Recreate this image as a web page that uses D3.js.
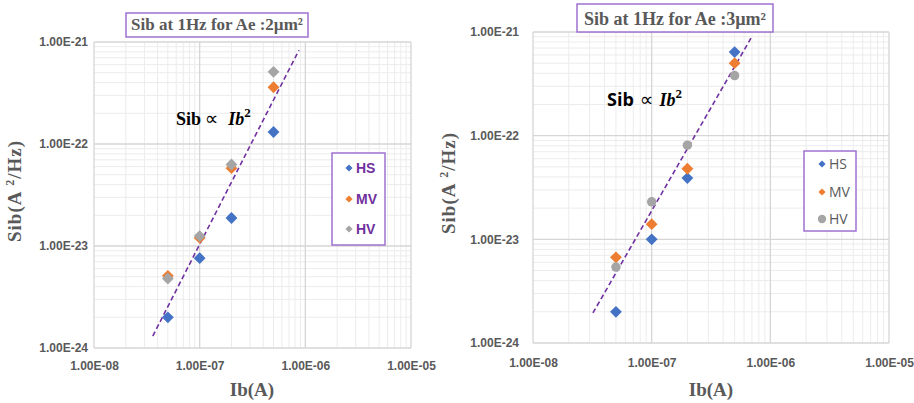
<!DOCTYPE html>
<html>
<head>
<meta charset="utf-8">
<script src="https://cdn.jsdelivr.net/npm/d3@7"></script>
<style>
  html, body { margin: 0; padding: 0; background: #fff; }
  svg { display: block; }
</style>
</head>
<body>
<svg id="chart" width="914" height="403"></svg>
<script>
// Bias current points (A)
const ibValues = [5e-8, 1e-7, 2e-7, 5e-7];
const seriesNames = ["HS", "MV", "HV"];

// Sib at 1 Hz, Ae = 2 µm² (A²/Hz)
const sib2HS = [2.0e-24, 7.6e-24, 1.88e-23, 1.31e-22];
const sib2MV = [5.1e-24, 1.2e-23, 5.8e-23, 3.6e-22];
const sib2HV = [4.8e-24, 1.25e-23, 6.3e-23, 5.1e-22];

// Sib at 1 Hz, Ae = 3 µm² (A²/Hz)
const sib3HS = [2.0e-24, 1.0e-23, 3.9e-23, 6.4e-22];
const sib3MV = [6.7e-24, 1.4e-23, 4.8e-23, 5.0e-22];
const sib3HV = [5.4e-24, 2.3e-23, 8.1e-23, 3.8e-22];

// Ib² guide lines (end points)
const trend2Ib = [3.6e-8, 8.7e-7];
const trend2Sib = [1.31e-24, 8.3e-22];
const trend3Ib = [3.2e-8, 6.9e-7];
const trend3Sib = [1.95e-24, 8.8e-22];

// Axis ticks
const xTickValues = [1e-8, 1e-7, 1e-6, 1e-5];
const xTickLabels = ["1.00E-08", "1.00E-07", "1.00E-06", "1.00E-05"];
const yTickValues = [1e-24, 1e-23, 1e-22, 1e-21];
const yTickLabels = ["1.00E-24", "1.00E-23", "1.00E-22", "1.00E-21"];

const titles = ["Sib at 1Hz for Ae :2\u00b5m\u00b2", "Sib at 1Hz for Ae :3\u00b5m\u00b2"];

const colors = { HS: "#4472c4", MV: "#ed7d31", HV: "#a5a5a5" };
const purple = "#7030a0";
const boxPurple = "#9e72cf";
const textGray = "#595959";

const svg = d3.select("#chart");

function minorTicks(lo, hi) {
  const out = [];
  for (let e = Math.round(Math.log10(lo)); e < Math.round(Math.log10(hi)); e++) {
    for (let m = 2; m <= 9; m++) out.push(m * Math.pow(10, e));
  }
  return out;
}

function drawPanel(p) {
  const g = svg.append("g");
  const x = d3.scaleLog().domain([1e-8, 1e-5]).range([p.left, p.right]);
  const y = d3.scaleLog().domain([1e-24, 1e-21]).range([p.bottom, p.top]);

  // minor grid
  g.append("g").selectAll("line").data(minorTicks(1e-8, 1e-5)).join("line")
    .attr("x1", d => x(d)).attr("x2", d => x(d))
    .attr("y1", p.top).attr("y2", p.bottom)
    .attr("stroke", "#ececec").attr("stroke-width", 1);
  g.append("g").selectAll("line").data(minorTicks(1e-24, 1e-21)).join("line")
    .attr("y1", d => y(d)).attr("y2", d => y(d))
    .attr("x1", p.left).attr("x2", p.right)
    .attr("stroke", "#ececec").attr("stroke-width", 1);

  // major grid
  g.append("g").selectAll("line").data(xTickValues).join("line")
    .attr("x1", d => x(d)).attr("x2", d => x(d))
    .attr("y1", p.top).attr("y2", p.bottom)
    .attr("stroke", "#d6d6d6").attr("stroke-width", 1.3);
  g.append("g").selectAll("line").data(yTickValues).join("line")
    .attr("y1", d => y(d)).attr("y2", d => y(d))
    .attr("x1", p.left).attr("x2", p.right)
    .attr("stroke", "#d6d6d6").attr("stroke-width", 1.3);

  // axes (labels only)
  const xAxis = d3.axisBottom(x).tickValues(xTickValues)
    .tickFormat((d, i) => xTickLabels[i]).tickSize(0).tickPadding(p.xPad);
  const yAxis = d3.axisLeft(y).tickValues(yTickValues)
    .tickFormat((d, i) => yTickLabels[i]).tickSize(0).tickPadding(p.yPad);
  const gx = g.append("g").attr("transform", `translate(0,${p.bottom})`).call(xAxis);
  const gy = g.append("g").attr("transform", `translate(${p.left},0)`).call(yAxis);
  [gx, gy].forEach(a => {
    a.select(".domain").remove();
    a.selectAll("text").attr("fill", textGray)
      .style("font-family", "'Liberation Sans', Arial, sans-serif")
      .style("font-weight", "bold").style("font-size", p.tickSize + "px");
  });

  // axis titles
  g.append("text").attr("x", p.xTitleX).attr("y", p.xTitleY)
    .attr("text-anchor", "middle").attr("fill", textGray)
    .style("font-family", "'Liberation Serif', 'DejaVu Serif', serif")
    .style("font-weight", "bold").style("font-size", "19px")
    .text("Ib(A)");
  const yt = g.append("text")
    .attr("transform", `translate(${p.yTitleX},${p.yTitleY}) rotate(-90)`)
    .attr("text-anchor", "middle").attr("fill", textGray)
    .style("font-family", "'Liberation Serif', 'DejaVu Serif', serif")
    .style("font-weight", "bold").style("font-size", "19px")
    .style("letter-spacing", "1px");
  yt.append("tspan").text("Sib(A ");
  yt.append("tspan").attr("dy", -7).style("font-size", "12px").text("2");
  yt.append("tspan").attr("dy", 7).text("/Hz)");

  // trend line Sib ∝ Ib²
  const line = d3.line().x(d => x(d[0])).y(d => y(d[1]));
  g.append("path").datum(d3.zip(p.trendIb, p.trendSib))
    .attr("d", line).attr("fill", "none")
    .attr("stroke", purple).attr("stroke-width", 1.6)
    .attr("stroke-dasharray", "5,3");

  // points
  const diamond = d3.symbol().type(d3.symbolSquare).size(70);
  seriesNames.forEach((name, si) => {
    const vals = p.series[si];
    const pts = g.append("g").selectAll("path").data(ibValues.map((v, i) => [v, vals[i]])).join("path");
    if (p.circleHV && name === "HV") {
      pts.attr("d", d3.symbol().type(d3.symbolCircle).size(70)())
        .attr("transform", d => `translate(${x(d[0])},${y(d[1])})`);
    } else {
      pts.attr("d", diamond())
        .attr("transform", d => `translate(${x(d[0])},${y(d[1])}) rotate(45)`);
    }
    pts.attr("fill", colors[name]);
  });

  // title box
  g.append("rect").attr("x", p.titleBox[0]).attr("y", p.titleBox[1])
    .attr("width", p.titleBox[2]).attr("height", p.titleBox[3])
    .attr("fill", "#fff").attr("stroke", boxPurple).attr("stroke-width", 1.5);
  g.append("text").attr("x", p.titleBox[0] + p.titleBox[2] / 2).attr("y", p.titleBox[1] + p.titleBox[3] - 7)
    .attr("text-anchor", "middle").attr("fill", textGray)
    .style("font-family", "'Liberation Serif', 'DejaVu Serif', serif")
    .style("font-weight", "bold").style("font-size", p.titleSize + "px")
    .text(p.title);

  // legend
  const lb = p.legendBox;
  g.append("rect").attr("x", lb[0]).attr("y", lb[1]).attr("width", lb[2]).attr("height", lb[3])
    .attr("fill", "#fff").attr("stroke", boxPurple).attr("stroke-width", 1.5);
  seriesNames.forEach((name, i) => {
    const cy = p.legendRows[i];
    if (p.circleHV && name === "HV") {
      g.append("circle").attr("cx", p.legendMarkX).attr("cy", cy).attr("r", 4.2).attr("fill", colors[name]);
    } else {
      g.append("path").attr("d", d3.symbol().type(d3.symbolSquare).size(26)())
        .attr("transform", `translate(${p.legendMarkX},${cy}) rotate(45)`).attr("fill", colors[name]);
    }
    g.append("text").attr("x", p.legendTextX).attr("y", cy).attr("dy", "0.36em")
      .attr("fill", p.legendColor)
      .style("font-family", p.legendFont)
      .style("font-weight", p.legendWeight).style("font-size", p.legendSize + "px")
      .text(name);
  });

  // annotation
  const an = g.append("text").attr("x", p.annot[0]).attr("y", p.annot[1]).attr("fill", "#000")
    .style("font-size", "18px").style("font-weight", "bold");
  an.append("tspan").style("font-family", p.annotSibFont).text("Sib");
  an.append("tspan").style("font-family", "'DejaVu Sans', sans-serif").style("font-weight", "normal")
    .style("font-size", "19px").text(p.annotGap);
  an.append("tspan").style("font-family", "'Liberation Serif', serif").style("font-style", "italic").text("Ib");
  an.append("tspan").attr("dy", -8).style("font-family", "'Liberation Serif', serif")
    .style("font-size", "13px").text("2");
}

drawPanel({
  left: 94, right: 411, top: 42, bottom: 348,
  xPad: 13, yPad: 6, tickSize: 12,
  xTitleX: 252, xTitleY: 396, yTitleX: 21, yTitleY: 191,
  series: [sib2HS, sib2MV, sib2HV], circleHV: false,
  trendIb: trend2Ib, trendSib: trend2Sib,
  title: titles[0], titleSize: 17, titleBox: [126, 13, 182, 24],
  legendBox: [332, 153, 53, 92], legendRows: [168, 199, 229],
  legendMarkX: 349, legendTextX: 356, legendColor: purple,
  legendFont: "'Liberation Sans Narrow', 'Liberation Sans', Arial, sans-serif",
  legendWeight: "bold", legendSize: 14,
  annot: [176, 125], annotSibFont: "'Liberation Serif', serif", annotGap: "\u2009\u221d\u2009 "
});

drawPanel({
  left: 533, right: 889, top: 32, bottom: 343,
  xPad: 15, yPad: 14, tickSize: 12,
  xTitleX: 711, xTitleY: 396, yTitleX: 455, yTitleY: 183,
  series: [sib3HS, sib3MV, sib3HV], circleHV: true,
  trendIb: trend3Ib, trendSib: trend3Sib,
  title: titles[1], titleSize: 18, titleBox: [577, 4, 196, 28],
  legendBox: [804, 151, 52, 80], legendRows: [164, 192, 219],
  legendMarkX: 822, legendTextX: 829, legendColor: textGray,
  legendFont: "'Open Sans', 'Liberation Sans', Arial, sans-serif",
  legendWeight: "normal", legendSize: 14,
  annot: [607, 106], annotSibFont: "'Open Sans', 'Liberation Sans', sans-serif", annotGap: " \u221d  "
});
</script>
</body>
</html>
